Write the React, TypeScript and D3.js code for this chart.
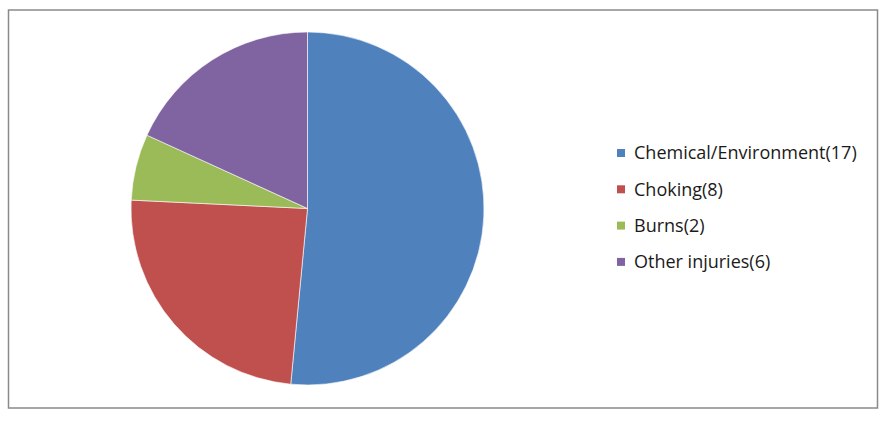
import React from "react";
import * as d3 from "d3";

const categories = ["Chemical/Environment", "Choking", "Burns", "Other injuries"];
const values = [17, 8, 2, 6];
const colors = ["#4F81BD", "#C0504D", "#9BBB59", "#8064A2"];

export default function App() {
  const W = 888, H = 421;
  const cx = 307.5, cy = 208.5, r = 176.5;
  const pie = d3.pie<number>().sort(null).value((d) => d)(values);
  const arc = d3.arc<d3.PieArcDatum<number>>().innerRadius(0).outerRadius(r);
  const legendX = 617, legendY0 = 153, legendStep = 36.3;
  return (
    <svg width={W} height={H} style={{ position: "absolute", left: 0, top: 0 }}>
      <rect x={0} y={0} width={W} height={H} fill="#fff" />
      <rect x={8.5} y={10} width={869} height={398} fill="#fff" stroke="#8a8a8a" strokeWidth={1.5} />
      <g transform={`translate(${cx},${cy})`}>
        {pie.map((p, i) => (
          <path key={i} d={arc(p) || ""} fill={colors[i]} stroke="#fff" strokeWidth={0.6} />
        ))}
      </g>
      {categories.map((c, i) => (
        <g key={c} transform={`translate(${legendX},${legendY0 + i * legendStep})`}>
          <rect x={0} y={-4} width={8} height={8} fill={colors[i]} />
          <text x={17} y={0} dy="0.36em" fontFamily="'Open Sans', sans-serif" fontSize={18} fill="#1a1a1a">
            {`${c}(${values[i]})`}
          </text>
        </g>
      ))}
    </svg>
  );
}
